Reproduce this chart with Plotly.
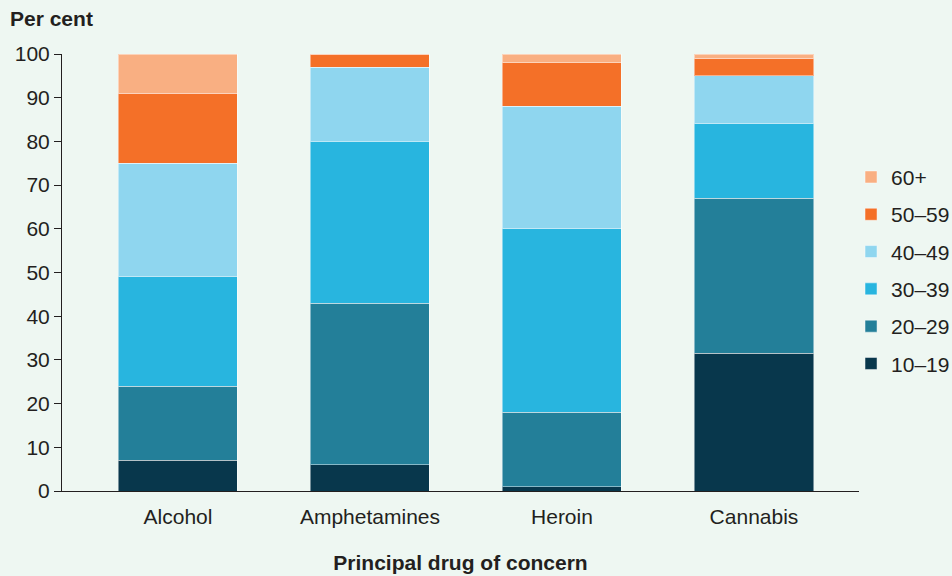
import plotly.graph_objects as go

categories = ["Alcohol", "Amphetamines", "Heroin", "Cannabis"]
age_groups = ["10–19", "20–29", "30–39", "40–49", "50–59", "60+"]
v_10_19 = [7, 6, 1, 31.5]
v_20_29 = [17, 37, 17, 35.5]
v_30_39 = [25, 37, 42, 17]
v_40_49 = [26, 17, 28, 11]
v_50_59 = [16, 3, 10, 4]
v_60_plus = [9, 0, 2, 1]
series = [v_10_19, v_20_29, v_30_39, v_40_49, v_50_59, v_60_plus]
colors = ["#08374C", "#237F99", "#28B5DF", "#8FD6EF", "#F47028", "#F9AF82"]
y_ticks = [0, 10, 20, 30, 40, 50, 60, 70, 80, 90, 100]

bg = "#EEF7F2"
FS = 21
fig = go.Figure()
n = len(age_groups)
for i, (name, vals, col) in enumerate(zip(age_groups, series, colors)):
    fig.add_trace(go.Bar(
        x=categories, y=vals, name=name, legendgroup=name, legendrank=n - i,
        marker=dict(color=col, line=dict(color="rgba(255,255,255,0.45)", width=1)),
    ))

fig.update_layout(
    barmode="stack",
    bargap=0.38,
    width=952, height=576,
    paper_bgcolor=bg, plot_bgcolor=bg,
    margin=dict(l=62, r=93, t=54, b=85, autoexpand=False),
    font=dict(family="Liberation Sans, Arial, sans-serif", size=FS, color="#231F20"),
    legend=dict(traceorder="grouped", x=0.99, xanchor="left", y=0.505, yanchor="middle",
                font=dict(size=FS), tracegroupgap=7, itemwidth=30,
                bgcolor="rgba(0,0,0,0)"),
    xaxis=dict(range=[-0.604, 3.547], showline=True, linecolor="#231F20", linewidth=1,
               ticks="outside", ticklen=7, tickcolor="rgba(0,0,0,0)", automargin=False,
               tickfont=dict(size=FS), showgrid=False,
               title=dict(text="<b>Principal drug of concern</b>", font=dict(size=FS), standoff=28)),
    yaxis=dict(range=[0, 100], tickvals=y_ticks, showline=True, linecolor="#231F20",
               linewidth=1, ticks="outside", ticklen=7, tickcolor="#231F20", automargin=False,
               showgrid=False, zeroline=False, tickfont=dict(size=FS)),
    annotations=[dict(text="<b>Per cent</b>", xref="paper", yref="paper",
                      x=-0.068, y=1.0, yshift=22, xanchor="left", yanchor="bottom",
                      showarrow=False, font=dict(size=FS))],
)

fig.write_html("out.html", config={"displayModeBar": False},
               post_script="document.body.style.margin='0';document.body.style.overflow='hidden';")
